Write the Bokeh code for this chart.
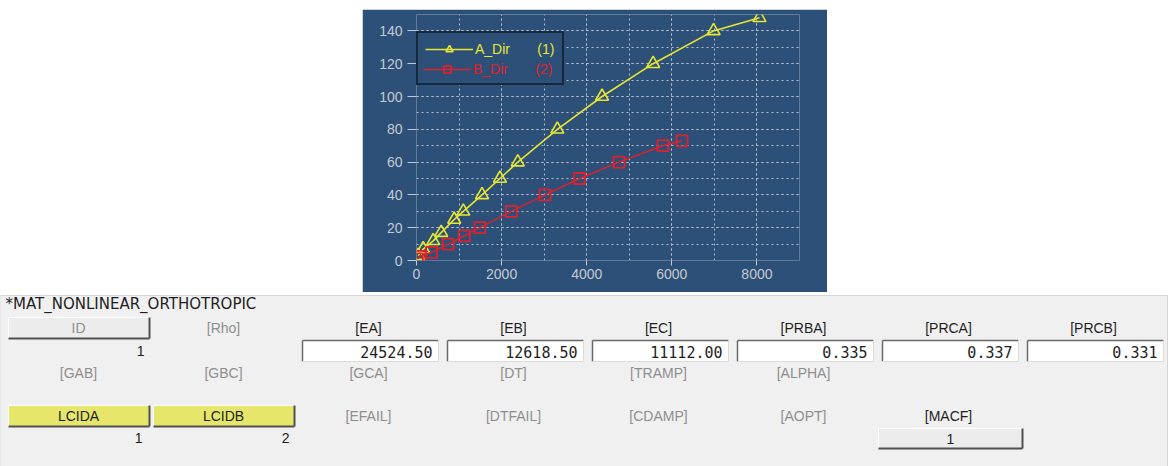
from bokeh.plotting import figure
from bokeh.models import Range1d, FixedTicker, Legend, LegendItem
from bokeh.layouts import column
from bokeh.core.properties import value
from bokeh.embed import file_html
from bokeh.resources import INLINE

# ---------------- chart data ----------------
a_dir_x = [40, 157, 392, 580, 886, 1100, 1540, 1960, 2380, 3310, 4360, 5560, 6980, 8060]
a_dir_y = [3, 7, 12, 17, 25, 30, 40, 50, 60, 80, 100, 120, 140, 148]
b_dir_x = [20, 78, 353, 745, 1122, 1490, 2230, 3020, 3830, 4760, 5790, 6240]
b_dir_y = [1, 2.5, 5, 10, 15, 20, 30, 40, 50, 60, 70, 73]
series_names = ["A_Dir", "B_Dir"]
series_ids = ["(1)", "(2)"]
x_ticks = [0, 2000, 4000, 6000, 8000]
y_ticks = [0, 20, 40, 60, 80, 100, 120, 140]
x_max = 9000
y_max = 150

# ---------------- form data ----------------
title_text = "*MAT_NONLINEAR_ORTHOTROPIC"
row1_labels = ["ID", "[Rho]", "[EA]", "[EB]", "[EC]", "[PRBA]", "[PRCA]", "[PRCB]"]
row1_active = [False, False, True, True, True, True, True, True]
row1_values = ["1", "", "24524.50", "12618.50", "11112.00", "0.335", "0.337", "0.331"]
row2_labels = ["[GAB]", "[GBC]", "[GCA]", "[DT]", "[TRAMP]", "[ALPHA]"]
row3_labels = ["LCIDA", "LCIDB", "[EFAIL]", "[DTFAIL]", "[CDAMP]", "[AOPT]", "[MACF]"]
row3_active = [True, True, False, False, False, False, True]
row3_values = ["1", "2", "", "", "", "", "1"]

# ---------------- styles ----------------
BG = "#2c5078"
YEL = "#e6e632"
RED = "#e0202c"
GRID = "#b4bece"
TICKC = "#c4cad2"
FONT = "Liberation Sans"
MONO = "DejaVu Sans Mono"
GAP = " " * 7

# ================= chart =================
p = figure(width=465, height=283, x_range=Range1d(0, x_max), y_range=Range1d(0, y_max),
           output_backend="svg", toolbar_location=None,
           min_border_left=54, min_border_right=28, min_border_top=5, min_border_bottom=32,
           background_fill_color=BG, border_fill_color=BG, outline_line_color=None)
p.margin = (9, 0, 0, 362)

la = p.line(a_dir_x, a_dir_y, line_color=YEL, line_width=1.6)
ma = p.scatter(a_dir_x, a_dir_y, marker="triangle", size=13, line_color=YEL,
               fill_color=None, line_width=1.6)
lb = p.line(b_dir_x, b_dir_y, line_color=RED, line_width=1.5)
mb = p.scatter(b_dir_x, b_dir_y, marker="square", size=11, line_color=RED,
               fill_color=None, line_width=1.8)

xt = FixedTicker(ticks=x_ticks, minor_ticks=list(range(0, x_max + 1, 1000)))
yt = FixedTicker(ticks=y_ticks, minor_ticks=list(range(0, y_max + 1, 10)))
p.xaxis.ticker = xt
p.yaxis.ticker = yt
p.xgrid.ticker = xt
p.ygrid.ticker = yt
for g in (p.xgrid, p.ygrid):
    g.grid_line_color = GRID
    g.grid_line_dash = "2 3"
    g.grid_line_width = 1
    g.minor_grid_line_color = GRID
    g.minor_grid_line_dash = "2 3"
    g.minor_grid_line_width = 1

for ax in (p.xaxis, p.yaxis):
    ax.axis_line_color = None
    ax.major_tick_line_color = TICKC
    ax.major_tick_in = 0
    ax.minor_tick_line_color = None
    ax.major_label_text_color = TICKC
    ax.major_label_text_font = FONT
    ax.major_label_text_font_size = "14px"
p.yaxis.major_tick_out = 9
p.yaxis.major_label_standoff = 5
p.xaxis.major_tick_out = 5
p.xaxis.major_label_standoff = 3

leg_common = dict(spacing=0, margin=0,
                  glyph_width=48, glyph_height=18, label_height=18,
                  label_standoff=2, label_width=80,
                  label_text_font=FONT, label_text_font_size="14px")
leg1 = Legend(items=[LegendItem(label=series_names[0] + GAP + series_ids[0], renderers=[la, ma]),
                     LegendItem(label=" ", renderers=[])],
              location=(0, 175), padding=7,
              border_line_color="black", border_line_width=2,
              background_fill_color=BG, background_fill_alpha=1,
              label_text_color=YEL, **leg_common)
leg2 = Legend(items=[LegendItem(label=series_names[1] + GAP + series_ids[1], renderers=[lb, mb])],
              location=(7, 182), padding=0,
              border_line_color=None, background_fill_alpha=0,
              label_text_color=RED, **leg_common)
p.add_layout(leg1)
p.add_layout(leg2)

# ================= form =================
f = figure(width=1173, height=174, x_range=Range1d(0, 1173), y_range=Range1d(466, 292),
           output_backend="svg", toolbar_location=None, min_border=0,
           x_axis_type=None, y_axis_type=None, outline_line_color=None,
           background_fill_color="white", border_fill_color="white")

for fig in (p, f):
    if "frame_align" in fig.properties():
        fig.frame_align = False

f.quad(left=[0], right=[1167], top=[295], bottom=[466], fill_color="#f0f0f0",
       line_color="#d6d6d6", line_width=1)

PITCH = 145
def cl(k):
    return 5 + PITCH * k
def cr(k):
    return 150 + PITCH * k
def cc(k):
    return 78 + PITCH * k

Y_TITLE, Y_R1L, Y_R1V, Y_R2L, Y_R3L, Y_R3V = 303, 327, 350, 372, 415, 437

# raised buttons: (col, top, bottom, fill)
buttons = [(0, 317, 338, "#ececec"), (0, 405, 426, "#e6e66a"), (1, 405, 426, "#e6e66a"),
           (6, 428, 448, "#ececec")]
bl = [cl(k) + 3 for k, _, _, _ in buttons]
br = [cr(k) - 1 if k < 6 else cr(k) + 2 for k, _, _, _ in buttons]
bt = [t for _, t, _, _ in buttons]
bb = [b for _, _, b, _ in buttons]
f.quad(left=bl, right=br, top=bt, bottom=bb, fill_color=[c for *_, c in buttons], line_color=None)
f.segment(x0=bl, y0=bt, x1=br, y1=bt, line_color="white", line_width=1)
f.segment(x0=bl, y0=bt, x1=bl, y1=bb, line_color="white", line_width=1)
f.segment(x0=bl, y0=bb, x1=br, y1=bb, line_color="#505050", line_width=2)
f.segment(x0=br, y0=bt, x1=br, y1=bb, line_color="#505050", line_width=2)

# sunken input boxes for row 1 values (cols 2..7)
ik = [k for k in range(len(row1_values)) if k >= 2]
il = [cl(k) + 7 for k in ik]
ir = [cr(k) - 2 for k in ik]
it = [340] * len(ik)
ib = [361] * len(ik)
f.quad(left=il, right=ir, top=it, bottom=ib, fill_color="white", line_color=None)
f.segment(x0=il, y0=it, x1=ir, y1=it, line_color="#6a6a6a", line_width=1.5)
f.segment(x0=il, y0=it, x1=il, y1=ib, line_color="#6a6a6a", line_width=1.5)
f.segment(x0=il, y0=ib, x1=ir, y1=ib, line_color="#dcdcdc", line_width=1)
f.segment(x0=ir, y0=it, x1=ir, y1=ib, line_color="#dcdcdc", line_width=1)

GRAY_T = "#8e8e8e"
BLACK_T = "#1e1e1e"

f.text(x=[5], y=[Y_TITLE], text=[title_text], text_font=value("DejaVu Sans"),
       text_font_size="15px", text_color=BLACK_T, text_align="left", text_baseline="middle")

f.text(x=[cc(k) for k in range(len(row1_labels))], y=[Y_R1L] * len(row1_labels),
       text=row1_labels, text_font=value(FONT), text_font_size="14px",
       text_color=[BLACK_T if a else GRAY_T for a in row1_active],
       text_align="center", text_baseline="middle")
f.text(x=[cr(0) - 6], y=[Y_R1V], text=[row1_values[0]], text_font=value(FONT),
       text_font_size="14px", text_color=BLACK_T, text_align="right", text_baseline="middle")
f.text(x=[cr(k) - 8 for k in ik], y=[Y_R1V + 1] * len(ik), text=[row1_values[k] for k in ik],
       text_font=value(MONO), text_font_size="15px", text_color=BLACK_T,
       text_align="right", text_baseline="middle")
f.text(x=[cc(k) for k in range(len(row2_labels))], y=[Y_R2L] * len(row2_labels),
       text=row2_labels, text_font=value(FONT), text_font_size="14px", text_color=GRAY_T,
       text_align="center", text_baseline="middle")
f.text(x=[cc(k) for k in range(len(row3_labels))], y=[Y_R3L] * len(row3_labels),
       text=row3_labels, text_font=value(FONT), text_font_size="14px",
       text_color=[BLACK_T if a else GRAY_T for a in row3_active],
       text_align="center", text_baseline="middle")
f.text(x=[cr(0) - 8, cr(1) - 6], y=[Y_R3V] * 2, text=row3_values[:2], text_font=value(FONT),
       text_font_size="14px", text_color=BLACK_T, text_align="right", text_baseline="middle")
f.text(x=[cc(6) + 2], y=[Y_R3V + 1], text=[row3_values[6]], text_font=value(FONT),
       text_font_size="14px", text_color=BLACK_T, text_align="center", text_baseline="middle")

layout = column(p, f, spacing=0)
open("out.html", "w").write(file_html(layout, INLINE))
